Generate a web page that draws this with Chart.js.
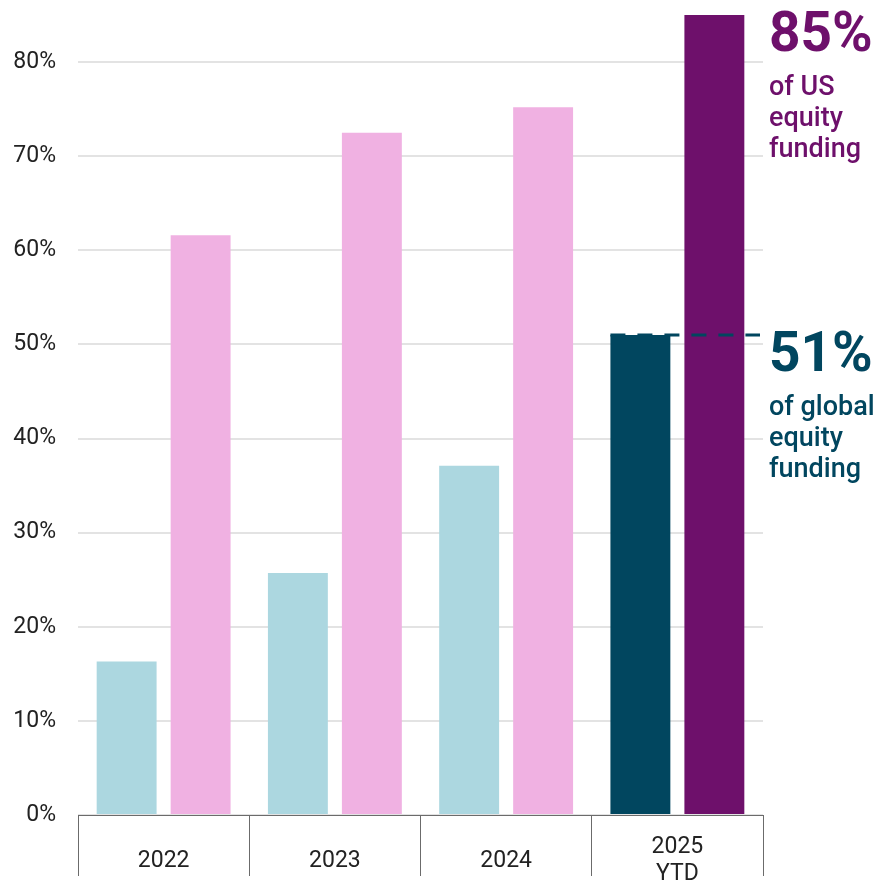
<!DOCTYPE html>
<html>
<head>
<meta charset="utf-8">
<script src="https://cdn.jsdelivr.net/npm/chart.js@4"></script>
<style>
  html, body { margin: 0; padding: 0; background: #ffffff; }
  #wrap { width: 881px; height: 884px; position: relative; }
</style>
</head>
<body>
<div id="wrap"><canvas id="c"></canvas></div>
<script>
// ---- data ----
const categories = ["2022", "2023", "2024", ["2025", "YTD"]];
const globalShare = [16.3, 25.7, 37.1, 51];   // % of global equity funding
const usShare = [61.6, 72.5, 75.2, 85];       // % of US equity funding
const yTicks = [0, 10, 20, 30, 40, 50, 60, 70, 80];
const calloutUS = ["85%", "of US", "equity", "funding"];
const calloutGlobal = ["51%", "of global", "equity", "funding"];

// ---- styles ----
const C_LIGHTBLUE = "#acd7e0";
const C_PINK = "#f0b1e2";
const C_DARK = "#01465f";
const C_PURPLE = "#6e106b";
const FONT = "Roboto";

const annotate = {
  id: "annotate",
  afterDatasetsDraw(chart) {
    const { ctx, chartArea, scales } = chart;
    const y = scales.y;
    const last = globalShare.length - 1;
    const bar = chart.getDatasetMeta(0).data[last];
    const yLine = y.getPixelForValue(globalShare[last]);
    ctx.save();
    // dashed reference line
    ctx.strokeStyle = C_DARK;
    ctx.lineWidth = 3;
    ctx.setLineDash([15, 12]);
    ctx.beginPath();
    ctx.moveTo(bar.x - bar.width / 2, yLine);
    ctx.lineTo(chartArea.right - 3, yLine);
    ctx.stroke();
    ctx.setLineDash([]);

    const x = chartArea.right + 6;
    function block(lines, value, color) {
      const base = y.getPixelForValue(value) + 36;
      ctx.fillStyle = color;
      ctx.textAlign = "left";
      ctx.textBaseline = "alphabetic";
      ctx.font = "bold 55px " + FONT;
      ctx.fillText(lines[0], x, base);
      ctx.font = "500 27px " + FONT;
      for (let i = 1; i < lines.length; i++) {
        ctx.fillText(lines[i], x, base + 44 + (i - 1) * 31);
      }
    }
    block(calloutUS, usShare[last], C_PURPLE);
    block(calloutGlobal, globalShare[last], C_DARK);
    ctx.restore();
  }
};

new Chart(document.getElementById("c"), {
  type: "bar",
  data: {
    labels: categories,
    datasets: [
      {
        label: "Global",
        data: globalShare,
        backgroundColor: [C_LIGHTBLUE, C_LIGHTBLUE, C_LIGHTBLUE, C_DARK],
        categoryPercentage: 0.864,
        barPercentage: 0.81
      },
      {
        label: "US",
        data: usShare,
        backgroundColor: [C_PINK, C_PINK, C_PINK, C_PURPLE],
        categoryPercentage: 0.864,
        barPercentage: 0.81
      }
    ]
  },
  options: {
    responsive: true,
    maintainAspectRatio: false,
    animation: false,
    layout: { padding: { top: 15, right: 118, bottom: 0, left: 0 } },
    plugins: { legend: { display: false }, tooltip: { enabled: false } },
    scales: {
      x: {
        offset: true,
        grid: {
          display: true,
          drawOnChartArea: false,
          drawTicks: true,
          tickLength: 61,
          tickColor: "#6b6b6b",
          tickWidth: 1,
          offset: true
        },
        border: { display: true, color: "#6b6b6b", width: 1 },
        ticks: {
          font: { family: FONT, size: 23, lineHeight: 1.2 },
          color: "#222222",
          padding: -29,
          crossAlign: "center",
          maxRotation: 0,
          autoSkip: false
        },
        afterFit(scale) {
          scale.height = 69;
          scale.paddingLeft = 0;
          scale.paddingRight = 0;
        }
      },
      y: {
        min: 0,
        max: 85,
        border: { display: false },
        grid: {
          color: "#e3e3e3",
          lineWidth: 2,
          drawTicks: true,
          tickLength: 22,
          tickColor: "rgba(0,0,0,0)"
        },
        afterBuildTicks(scale) {
          scale.ticks = yTicks.map(v => ({ value: v }));
        },
        ticks: {
          font: { family: FONT, size: 23 },
          color: "#222222",
          padding: 0,
          callback: v => v + "%"
        },
        afterFit(scale) {
          scale.width = 78;
          scale.paddingTop = 0;
          scale.paddingBottom = 0;
        }
      }
    }
  },
  plugins: [annotate]
});
</script>
</body>
</html>
